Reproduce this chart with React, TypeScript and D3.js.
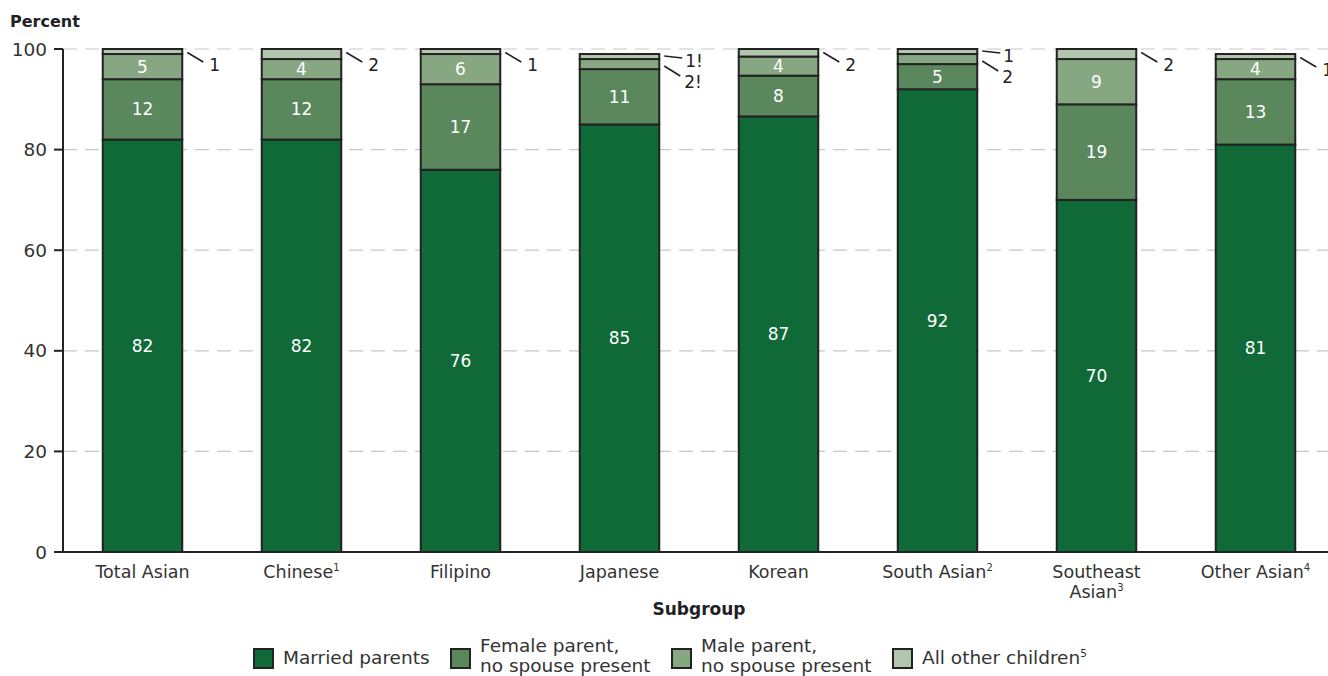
import React from "react";
import * as d3 from "d3";

const categories = ["Total Asian", "Chinese", "Filipino", "Japanese", "Korean", "South Asian", "Southeast Asian", "Other Asian"];
const categorySup = ["", "1", "", "", "", "2", "3", "4"];
const married = [82, 82, 76, 85, 86.6, 92, 70, 81];
const femaleParent = [12, 12, 17, 11, 8.1, 5, 19, 13];
const maleParent = [5, 4, 6, 2, 3.8, 2, 9, 4];
const otherChildren = [1, 2, 1, 1, 1.5, 1, 2, 1];
const flagged = [false, false, false, true, false, false, false, false];
const yTicks = [0, 20, 40, 60, 80, 100];
const seriesNames = ["Married parents", "Female parent,|no spouse present", "Male parent,|no spouse present", "All other children"];
const seriesSup = ["", "", "", "5"];
const colors = ["#106a38", "#5a875c", "#86a782", "#b2c6ad"];

const W = 1328, H = 676;
const FONT = "'DejaVu Sans', sans-serif";
const TXT = "#333";

export default function App() {
  const x = d3.scaleBand<string>().domain(categories).range([63, 1335]).paddingInner(0.5).paddingOuter(0.25);
  const y = d3.scaleLinear().domain([0, 100]).range([552, 49]);
  const series = [married, femaleParent, maleParent, otherChildren];
  const rows = categories.map((c, i) => ({ c, v: series.map(s => s[i]) }));
  const stack = d3.stack<any>().keys([0, 1, 2, 3] as any).value((d: any, k: any) => d.v[k]);
  const stacked = stack(rows);

  return (
    <svg width={W} height={H} style={{ position: "absolute", left: 0, top: 0, background: "#fff" }} fontFamily={FONT}>
      <text x={10} y={27} fontSize={16} fontWeight={700} fill="#222">Percent</text>
      {yTicks.filter(t => t > 0).map(t => (
        <line key={"g" + t} x1={63} x2={W} y1={y(t)} y2={y(t)} stroke="#c8c8c8" strokeWidth={1.2} strokeDasharray="14 8" />
      ))}
      {yTicks.map(t => (
        <g key={"t" + t}>
          <line x1={54} x2={63} y1={y(t)} y2={y(t)} stroke="#222" strokeWidth={2} />
          <text x={47} y={y(t)} dy="0.36em" textAnchor="end" fontSize={18.5} fill={TXT}>{t}</text>
        </g>
      ))}
      {stacked.map((layer, li) => (
        <g key={"l" + li}>
          {layer.map((d: any, i: number) => {
            const x0 = x(categories[i])!;
            const bw = x.bandwidth();
            const y0 = y(d[1]), y1 = y(d[0]);
            return (
              <rect key={i} x={x0} y={y0} width={bw} height={y1 - y0} fill={colors[li]} stroke="#222" strokeWidth={2} />
            );
          })}
        </g>
      ))}
      {stacked.map((layer, li) =>
        layer.map((d: any, i: number) => {
          const v = Math.round(series[li][i]);
          const x0 = x(categories[i])!;
          const bw = x.bandwidth();
          const xR = x0 + bw;
          if (v >= 3) {
            return (
              <text key={"v" + li + i} x={x0 + bw / 2} y={(y(d[0]) + y(d[1])) / 2} dy="0.36em" textAnchor="middle" fontSize={17} fill="#fff">{v}</text>
            );
          }
          const lab = v + (flagged[i] ? "!" : "");
          const yTop = y(stacked[3][i][1]);
          const doubleCall = Math.round(maleParent[i]) <= 2;
          let lx1, ly1, lx2, ly2, tx, ty;
          if (!doubleCall) {
            lx1 = xR + 5; ly1 = yTop + 3.5; lx2 = xR + 21; ly2 = yTop + 13; tx = xR + 27; ty = yTop + 16;
          } else if (li === 3) {
            lx1 = xR + 5; ly1 = yTop + 2; lx2 = xR + 23; ly2 = yTop + 4; tx = xR + 26; ty = yTop + 7;
          } else {
            lx1 = xR + 5; ly1 = yTop + 12; lx2 = xR + 21; ly2 = yTop + 22; tx = xR + 25; ty = yTop + 28;
          }
          return (
            <g key={"c" + li + i}>
              <line x1={lx1} y1={ly1} x2={lx2} y2={ly2} stroke="#222" strokeWidth={1.6} />
              <text x={tx} y={ty} dy="0.36em" fontSize={17} fill="#222">{lab}</text>
            </g>
          );
        })
      )}
      <line x1={63} x2={63} y1={y(100)} y2={y(0)} stroke="#222" strokeWidth={2} />
      <line x1={54} x2={W} y1={y(0)} y2={y(0)} stroke="#222" strokeWidth={2} />
      {categories.map((c, i) => {
        const cx = x(c)! + x.bandwidth() / 2;
        const words = c === "Southeast Asian" ? ["Southeast", "Asian"] : [c];
        return (
          <text key={"x" + i} x={cx} y={578} textAnchor="middle" fontSize={17.5} fill={TXT}>
            {words.map((w, wi) => (
              <tspan key={wi} x={cx} dy={wi === 0 ? 0 : 20}>
                {w}
                {wi === words.length - 1 && categorySup[i] ? (
                  <tspan fontSize={10} dy={-7}>{categorySup[i]}</tspan>
                ) : null}
              </tspan>
            ))}
          </text>
        );
      })}
      <text x={x(categories[0])! + (x(categories[7])! + x.bandwidth() - x(categories[0])!) / 2} y={615} textAnchor="middle" fontSize={17} fontWeight={700} fill="#222">Subgroup</text>
      {(() => {
        const xs = [253, 450, 671, 892];
        return seriesNames.map((s, i) => {
          const lines = s.split("|");
          const tx = xs[i] + 30;
          return (
            <g key={"lg" + i}>
              <rect x={xs[i] + 1} y={649} width={19} height={19} fill={colors[i]} stroke="#222" strokeWidth={2} />
              {lines.length === 1 ? (
                <text x={tx} y={664} fontSize={18.5} fill={TXT}>
                  {lines[0]}
                  {seriesSup[i] ? <tspan fontSize={10.5} dy={-7}>{seriesSup[i]}</tspan> : null}
                </text>
              ) : (
                <text x={tx} y={652} fontSize={18.5} fill={TXT}>
                  <tspan x={tx} dy={0}>{lines[0]}</tspan>
                  <tspan x={tx} dy={20}>{lines[1]}</tspan>
                </text>
              )}
            </g>
          );
        });
      })()}
    </svg>
  );
}
